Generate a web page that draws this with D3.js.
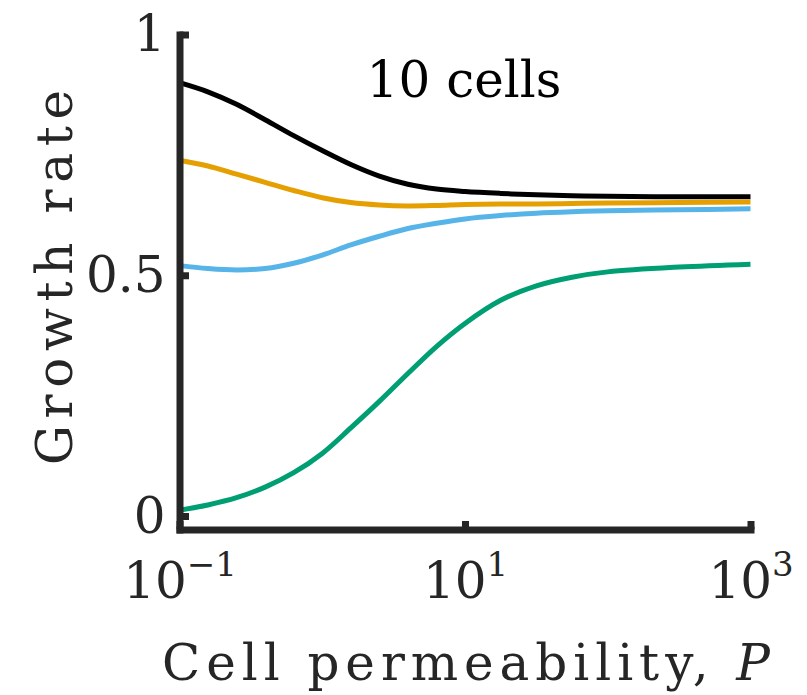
<!DOCTYPE html>
<html>
<head>
<meta charset="utf-8">
<script src="https://cdn.jsdelivr.net/npm/d3@7"></script>
<style>
  body { margin: 0; background: #fff; }
</style>
</head>
<body>
<svg id="chart" width="807" height="695"></svg>
<script>
/*** DATA ***/
// cell permeability P (log-spaced samples)
const permeability = [0.1, 0.158, 0.251, 0.398, 0.631, 1, 1.585, 2.512, 3.981, 6.31, 10, 17.78, 31.62, 56.23, 100, 316.2, 1000];
const rateBlack  = [0.900, 0.881, 0.855, 0.823, 0.790, 0.759, 0.730, 0.706, 0.689, 0.679, 0.674, 0.670, 0.667, 0.665, 0.664, 0.663, 0.663];
const rateOrange = [0.739, 0.727, 0.710, 0.693, 0.676, 0.661, 0.651, 0.646, 0.644, 0.645, 0.647, 0.648, 0.648, 0.649, 0.650, 0.651, 0.652];
const rateBlue   = [0.520, 0.514, 0.511, 0.514, 0.525, 0.542, 0.563, 0.581, 0.597, 0.608, 0.617, 0.624, 0.629, 0.632, 0.634, 0.636, 0.638];
const rateGreen  = [0.012, 0.023, 0.038, 0.060, 0.090, 0.130, 0.183, 0.238, 0.296, 0.352, 0.400, 0.448, 0.478, 0.496, 0.507, 0.517, 0.523];
const seriesColors = ['#000000', '#E69F00', '#56B4E9', '#009E73'];
const xTickValues = [0.1, 10, 1000];
const xTickExponents = ['\u22121', '1', '3'];
const yTickValues = [0, 0.5, 1];
const yTickLabels = ['0', '0.5', '1'];
const titleText = '10 cells';

//serif faces drop to a sans fallback above ~50px here, so stay at 50
var serifFont = 'DejaVu Serif';
var fontSize = 50;

/*** SCALES ***/
var svg = d3.select('#chart');
var x = d3.scaleLog().domain([0.1, 1000]).range([179.5, 750.5]);
var y = d3.scaleLinear().domain([-0.028, 1]).range([529.5, 34.5]);

//curves
var series = [rateBlack, rateOrange, rateBlue, rateGreen];
var line = d3.line()
  .x(function(d, i) { return x(permeability[i]); })
  .y(function(d) { return y(d); })
  .curve(d3.curveCatmullRom.alpha(0.5));

svg.append('g').attr('class', 'curves')
  .selectAll('path')
  .data(series)
  .join('path')
  .attr('d', function(d) { return line(d); })
  .attr('fill', 'none')
  .attr('stroke', function(d, i) { return seriesColors[i]; })
  .attr('stroke-width', 5)
  .attr('stroke-linejoin', 'round');

/*** AXES ***/
var yAxis = d3.axisLeft(y)
  .tickValues(yTickValues)
  .tickFormat(function(d, i) { return yTickLabels[i]; })
  .tickSizeInner(-9.5)
  .tickSizeOuter(0)
  .tickPadding(14);

var gy = svg.append('g')
  .attr('transform', 'translate(' + x(0.1) + ',0)')
  .call(yAxis);

var xAxis = d3.axisBottom(x)
  .tickValues(xTickValues)
  .tickFormat(function() { return ''; })
  .tickSizeInner(-8.5)
  .tickSizeOuter(0);

var gx = svg.append('g')
  .attr('transform', 'translate(0,' + y(-0.028) + ')')
  .call(xAxis);

[gx, gy].forEach(function(g) {
  g.attr('font-family', null);
  g.select('.domain')
    .attr('stroke', '#262626')
    .attr('stroke-width', 7)
    .attr('stroke-linecap', 'square');
  g.selectAll('.tick line')
    .attr('stroke', '#262626')
    .attr('stroke-width', 7);
});

gy.selectAll('.tick text')
  .style('font-family', serifFont)
  .attr('font-size', fontSize)
  .attr('fill', '#262626')
  .attr('dy', 0)
  .attr('y', 16);

//x tick labels with superscripts
gx.selectAll('.tick text')
  .style('font-family', serifFont)
  .attr('font-size', fontSize)
  .attr('fill', '#262626')
  .attr('y', 68.5)
  .attr('dy', 0)
  .each(function(d, i) {
    var t = d3.select(this);
    t.text('');
    t.append('tspan').text('10');
    t.append('tspan')
      .attr('font-size', 34)
      .attr('dy', -22)
      .text(xTickExponents[i]);
  });

/*** LABELS ***/
svg.append('text')
  .attr('x', 464)
  .attr('y', 97)
  .attr('text-anchor', 'middle')
  .style('font-family', serifFont)
  .attr('font-size', fontSize)
  .attr('fill', '#000')
  .text(titleText);

var xlabel = svg.append('text')
  .attr('x', 466)
  .attr('y', 680)
  .attr('text-anchor', 'middle')
  .style('font-family', serifFont)
  .attr('font-size', fontSize)
  .attr('fill', '#262626')
  .attr('textLength', 608)
  .attr('lengthAdjust', 'spacing');
xlabel.append('tspan').text('Cell permeability, ');
xlabel.append('tspan').attr('font-style', 'italic').text('P');

svg.append('text')
  .attr('transform', 'translate(72,277.5) rotate(-90)')
  .attr('text-anchor', 'middle')
  .style('font-family', serifFont)
  .attr('font-size', fontSize)
  .attr('fill', '#262626')
  .attr('textLength', 375)
  .attr('lengthAdjust', 'spacing')
  .text('Growth rate');
</script>
</body>
</html>
